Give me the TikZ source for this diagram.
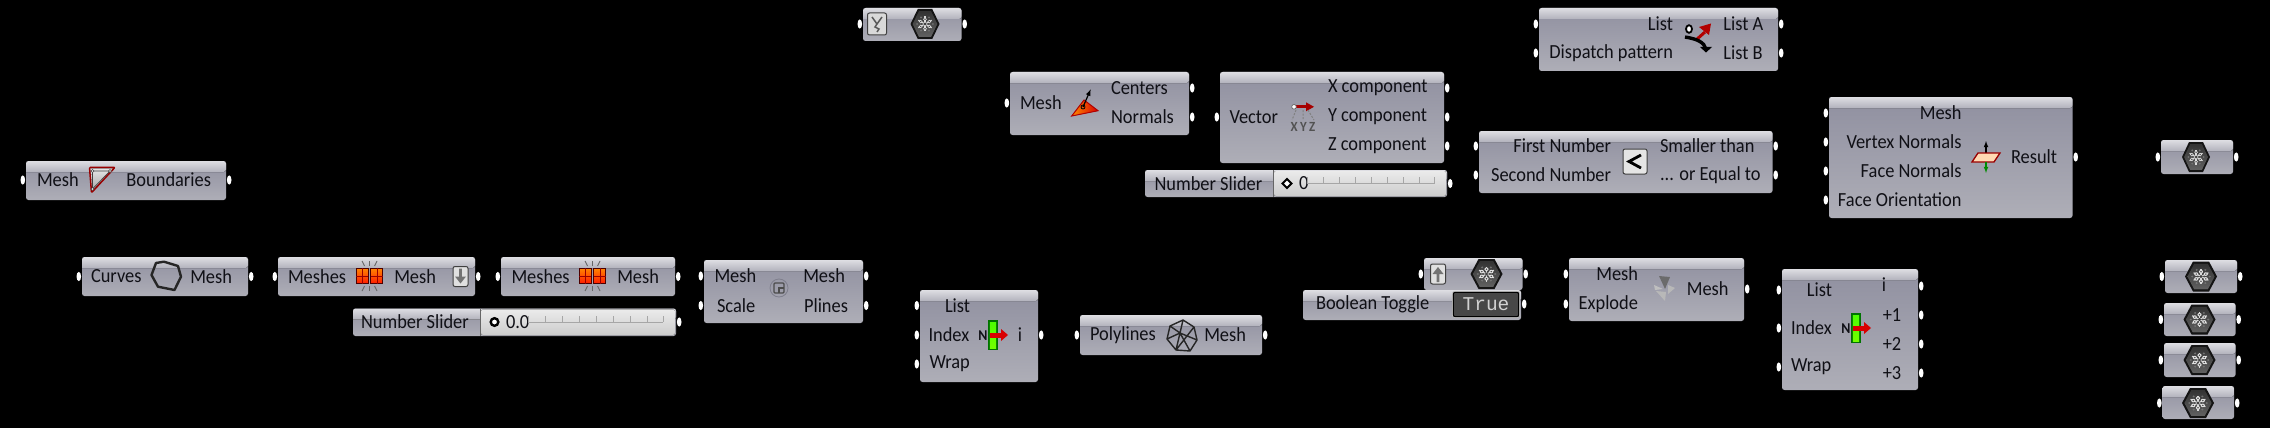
\documentclass[tikz,border=0pt]{standalone}
\usepackage{fontspec}
\setmainfont[FakeStretch=0.92]{Carlito}
\newfontfamily\monofam{Liberation Mono}
\usetikzlibrary{calc}
\definecolor{bodytop}{HTML}{9090A0}
\definecolor{bodybot}{HTML}{AEAEB7}
\definecolor{bandtop}{HTML}{DEDEE3}
\definecolor{bandbot}{HTML}{B2B2BC}
\definecolor{inkc}{HTML}{101016}
\newcount\labn
\tikzset{
  gbody/.style={rectangle,rounded corners=2.5pt,inner sep=0pt,outer sep=0pt,top color=bodytop,bottom color=bodybot,draw=none},
  lbl/.style={inner sep=0pt,outer sep=0pt,text=inkc,font=\fontsize{20}{22}\selectfont},
  gpin/.style={fill=white,draw=none},
  gband/.style={top color=bandtop,bottom color=bandbot,draw=none},
  glyphline/.style={line width=2.4pt,line join=round,draw=#1},
  iconbtn/.style={rectangle,rounded corners=2pt,inner sep=0pt,fill=#1,draw=black!75,line width=1pt},
}
% name, x1, y1, x2, y2, input pin ys, output pin ys
\newcommand\gcomp[7]{%
  \pgfmathsetmacro\gw{#4-#2}\pgfmathsetmacro\gh{#5-#3}%
  \pgfmathsetmacro\gcx{(#2+#4)/2}\pgfmathsetmacro\gcy{(#3+#5)/2}%
  \node[gbody,minimum width=\gw pt,minimum height=\gh pt] (#1) at (\gcx,\gcy) {};
  \fill[gband,rounded corners=2.5pt] (#2,#3+11) -- (#2,#3) -- (#4,#3) -- (#4,#3+11) [sharp corners] -- cycle;
  \foreach \py in {#6}{\fill[gpin] (#2-3.2,\py) ellipse (2.3 and 4.6);}
  \foreach \py in {#7}{\fill[gpin] (#4+3.2,\py) ellipse (2.3 and 4.6);}
}
\newcommand\lab[4]{\global\advance\labn by 1\node[lbl,anchor=#1] (lab\the\labn) at (#2,#3) {#4};}
% centre x, centre y, half width
\newcommand\hexicon[3]{%
  \begin{scope}[shift={(#1,#2)},xscale=#3/14]
    \fill[black!92] (-14,0)--(-7,-15)--(7,-15)--(14,0)--(7,15)--(-7,15)--cycle;
    \fill[top color=black!80,bottom color=black!62] (-12,0)--(-6,-12.8)--(6,-12.8)--(12,0)--(6,12.8)--(-6,12.8)--cycle;
    \foreach \a in {30,90,...,330}{
      \draw[white!85!black,line width=1.1pt] (0,0) -- (\a:7.5);
      \fill[white!90!black] (\a:4.8) circle (1.8);
      \fill[white!45!black] (\a+30:7.6) circle (1);
    }
    \fill[black!75] (0,0) circle (1.5);
    \foreach \a in {30,90,...,330}{\fill[black!70] (\a:4.8) circle (0.8);}
  \end{scope}}
\newcommand\splitmesh[2]{%
  \begin{scope}[shift={(#1,#2)}]
    \foreach \dx in {-7.2,7.2}{
      \fill[top color=orange!95!yellow,bottom color=red!80!orange] (\dx-6,-7.8) rectangle (\dx+6,7.8);
      \draw[black!70!red,line width=1pt] (\dx-6,-7.8) rectangle (\dx+6,7.8);
      \draw[red!60!black,line width=0.4pt] (\dx,-7.8)--(\dx,7.8) (\dx-6,0)--(\dx+6,0);
    }
    \foreach \dx in {-5,0,5}{
      \draw[black!60,line width=0.9pt] (\dx,-10) -- (1.5*\dx,-15);
      \draw[black!60,line width=0.9pt] (\dx,10) -- (1.5*\dx,15);
    }
  \end{scope}}
\newcommand\listitemicon[2]{%
  \begin{scope}[shift={(#1,#2)}]
    \fill[green!45!black] (-5,-15) rectangle (5,15);
    \fill[top color=green!70!yellow,bottom color=green!55!yellow] (-3.2,-13) rectangle (3.2,13);
    \fill[red!85!black] (-3,-2.5) rectangle (8,2.5);
    \fill[red!85!black] (8,-6) -- (15,0) -- (8,6) -- cycle;
    \node[lbl,font=\fontsize{15}{15}\bfseries\selectfont] (n#1) at (-10,1) {N};
  \end{scope}}
\newcommand\arrowbtn[3]{%
  \node[iconbtn=white!88!black,minimum width=15pt,minimum height=20pt] (btn#1) at (#1,#2) {};
  \fill[black!55] (#1-1.4,#2) -- (#1-1.4,#2+#3*8) -- (#1+1.4,#2+#3*8) -- (#1+1.4,#2) -- (#1+5.5,#2) -- (#1,#2-#3*7) -- (#1-5.5,#2) -- cycle;
}
\begin{document}
\begin{tikzpicture}[x=1pt,y=-1pt]
\useasboundingbox (0,0) rectangle (2270,428);
\fill[black] (0,0) rectangle (2270,428);

% ---- left column
\gcomp{boundaries}{26}{161}{226}{200}{180}{180}
\lab{west}{37}{180}{Mesh}
\lab{east}{211}{180}{Boundaries}
\fill[top color=white!90!black,bottom color=black!35] (91,168.5)--(113,168.5)--(92,191)--cycle;
\draw[red!60!black,line width=1.5pt,line join=round,rounded corners=1pt] (89.5,167.3)--(115,167.3)--(91.5,192.7)--cycle;
\draw[black!75,line width=0.7pt] (92.5,171)--(110,171)--(92.5,189)--cycle;
\foreach \cx/\cy in {92.5/171,110/171,92.5/189}{\fill[white,draw=black!75,line width=0.6pt] (\cx,\cy) circle (1.5);}

\gcomp{curves}{82}{257}{248}{296}{276.5}{276.5}
\lab{west}{91}{276.5}{Curves}
\lab{east}{232}{276.5}{Mesh}
\draw[glyphline=black!85] (164,261.7)--(178,266)--(181,276.7)--(174.5,290)--(158,286.7)--(151.5,275)--(156,263)--cycle;

\gcomp{meshA}{278}{257}{475}{296}{276.5}{276.5}
\lab{west}{288}{276.5}{Meshes}
\lab{east}{436}{276.5}{Mesh}
\splitmesh{369.5}{276}
\arrowbtn{460.5}{276.5}{-1}

\gcomp{meshB}{501}{257}{675}{296}{276.5}{276.5}
\lab{west}{511.5}{276.5}{Meshes}
\lab{east}{659}{276.5}{Mesh}
\splitmesh{592.5}{276}

% number slider 1
\gcomp{sliderA}{353}{308.5}{676}{336}{}{322}
\fill[top color=white!92!black,bottom color=white!80!black,rounded corners=2pt] (481,309.5) rectangle (675,335);
\draw[black!60,line width=1pt] (480,308.5)--(480,336);
\lab{west}{361}{322}{Number Slider}
\draw[black,line width=2.4pt,fill=white] (494.5,322) circle (3.8);
\lab{west}{506}{322}{0.0}
\draw[black!35,line width=0.5pt] (528,322)--(663,322);
\foreach \tx in {528,545,562,579,596,613,630,647,663}{\draw[black!35,line width=0.5pt] (\tx,316)--(\tx,322);}

% ---- top row
\gcomp{dataA}{863}{8}{961.5}{41}{24}{24}
\node[iconbtn=white!85!black,minimum width=19pt,minimum height=22pt] (ybtn) at (877,24) {};
\draw[black!65,line width=1.5pt] (872,17)--(877,24)--(882,17) (877,24)--(875,27)--(879,29)--(877,32);
\hexicon{925}{24}{14.5}

\gcomp{faces}{1010}{72}{1189}{135}{103}{88,117}
\lab{west}{1020}{103}{Mesh}
\lab{west}{1111}{88}{Centers}
\lab{west}{1111}{117}{Normals}
\fill[left color=orange!90!yellow,right color=red!85!black] (1071.7,116)--(1084,100)--(1098,110.7)--cycle;
\draw[black!30!red,line width=1pt] (1071.7,116)--(1084,100)--(1098,110.7)--cycle;
\draw[black,line width=1.2pt,-latex] (1083,107)--(1090.7,89.3);
\draw[black,line width=0.8pt] (1083,107) circle (2);

\gcomp{vec}{1220}{72}{1444}{163}{117}{88,117,146}
\lab{west}{1229.5}{117}{Vector}
\lab{west}{1328}{88}{X component}
\lab{west}{1328}{117}{Y component}
\lab{west}{1328}{146}{Z component}
\fill[red!65!black] (1294,105.3) rectangle (1307,108.3);
\fill[red!65!black] (1306,102.3)--(1314,106.8)--(1306,111.3)--cycle;
\fill[white,draw=black!60,line width=0.7pt] (1294,106.8) circle (2.3);
\draw[black!50,line width=1pt,dash pattern=on 2pt off 1.5pt] (1296,110)--(1292,120) (1303,110)--(1303,120) (1308,110)--(1314,120);
\node[lbl,text=black!68,font=\fontsize{14}{14}\bfseries\selectfont] (xyz) at (1303,126.5) {X\,Y\,Z};

\gcomp{sliderB}{1145}{170}{1447}{197}{}{183.5}
\fill[top color=white!92!black,bottom color=white!80!black,rounded corners=2pt] (1274,171) rectangle (1446,196);
\draw[black!60,line width=1pt] (1273,170)--(1273,197);
\lab{west}{1154.5}{183.5}{Number Slider}
\draw[black,line width=1.8pt,fill=white] (1287,179)--(1291.5,183.5)--(1287,188)--(1282.5,183.5)--cycle;
\lab{west}{1299}{183.5}{0}
\draw[black!35,line width=0.5pt] (1307.5,183.5)--(1434,183.5);
\foreach \tx in {1307.5,1323,1339,1355,1371,1387,1403,1419,1434}{\draw[black!35,line width=0.5pt] (\tx,177)--(\tx,183.5);}

\gcomp{dispatch}{1539}{8}{1778}{71}{24,53}{24,53}
\lab{east}{1673}{24}{List}
\lab{east}{1673}{53}{Dispatch pattern}
\lab{west}{1723.4}{24}{List A}
\lab{west}{1723.4}{53}{List B}
\draw[red!70!black,line width=3pt] (1696,40)--(1705,32);
\fill[red!70!black] (1699,27)--(1711,23.5)--(1709,35)--cycle;
\draw[black,line width=3.4pt] (1685,37) .. controls (1697,39) and (1704,42) .. (1706,49);
\fill[black] (1700,47)--(1712,47)--(1706,52.5)--cycle;
\fill[white,draw=black,line width=1.8pt] (1689,29) ellipse (3 and 3.8);

\gcomp{compare}{1479}{131}{1772.5}{193}{146,175}{146,175}
\lab{east}{1611}{146}{First Number}
\lab{east}{1611}{175}{Second Number}
\lab{west}{1660}{146}{Smaller than}
\lab{west}{1660}{175}{... or Equal to}
\node[iconbtn=white!90!black,minimum width=24pt,minimum height=25pt] (ltbtn) at (1635,161.5) {};
\draw[black,line width=2.8pt] (1641,155)--(1629,161.5)--(1641,168);

\gcomp{normals}{1829}{97}{2072.5}{218}{113,142,171,200}{157}
\lab{east}{1961.5}{113}{Mesh}
\lab{east}{1961.5}{142}{Vertex Normals}
\lab{east}{1961.5}{171}{Face Normals}
\lab{east}{1961.5}{200}{Face Orientation}
\lab{west}{2011}{157}{Result}
\draw[black,line width=1.1pt,-latex] (1986,157)--(1986,141);
\fill[orange!30!white,draw=red!60!black,line width=1.3pt] (1978,153)--(2000,153)--(1994,162)--(1972,162)--cycle;
\draw[green!55!black,line width=1.1pt,-latex] (1986,162)--(1986,173);

\gcomp{hexA}{2161}{140}{2233}{174}{157}{157}
\hexicon{2196}{157}{14}

% ---- lower middle
\gcomp{scale}{704}{260}{863}{323}{276,305.5}{276,305.5}
\lab{west}{714.5}{276}{Mesh}
\lab{west}{717}{305.5}{Scale}
\lab{east}{845}{276}{Mesh}
\lab{east}{848}{305.5}{Plines}
\draw[black!12!bodytop,line width=0.8pt] (779,288) circle (9);
\draw[black!70,line width=1.3pt,rounded corners=1pt] (774,283) rectangle (784,293);
\draw[black!70,line width=1.3pt] (779,293)--(779,288)--(784,288);

\gcomp{listA}{920}{290}{1038}{382}{305.5,335,364}{335}
\lab{west}{945}{305.5}{List}
\lab{west}{928.5}{335}{Index}
\lab{west}{929.5}{364}{Wrap}
\lab{center}{1020}{335}{i}
\listitemicon{993}{335}

\gcomp{poly}{1080}{315}{1262}{355}{335}{335}
\lab{west}{1090}{335}{Polylines}
\lab{east}{1246}{335}{Mesh}
\draw[black!85,line width=1.4pt,line join=round] (1183,320)--(1194,327)--(1197,340)--(1190,351)--(1176,350)--(1167,339)--(1170,326)--cycle
  (1183,320)--(1180,333)--(1190,351) (1170,326)--(1180,333)--(1197,340) (1167,339)--(1180,333) (1176,350)--(1194,327) (1176,350)--(1180,333);

\gcomp{dataB}{1424}{258}{1522.5}{290}{274}{274}
\arrowbtn{1438}{274}{1}
\hexicon{1486.5}{274}{16}

\gcomp{toggle}{1303}{290}{1521}{320}{}{304}
\lab{west}{1316}{304}{Boolean Toggle}
\node[rectangle,rounded corners=2pt,inner sep=0pt,fill=black!72,draw=white!75!black,line width=0.8pt,minimum width=67pt,minimum height=26pt,text=white!82!black,font=\monofam\fontsize{19.5}{20}\selectfont] (truebox) at (1486,304.5) {True};
\draw[black,line width=1pt,rounded corners=2pt] (truebox.north west)++(1.2,1.2) rectangle ($(truebox.south east)+(-1.2,-1.2)$);

\gcomp{explode}{1569}{258}{1744}{321}{274,304}{289}
\lab{east}{1638}{274}{Mesh}
\lab{east}{1638}{304}{Explode}
\lab{east}{1728.5}{289}{Mesh}
\fill[black!58] (1659,276)--(1670,277)--(1665,289)--cycle;
\fill[black!28] (1668,285)--(1675,288)--(1668,294)--cycle;
\fill[black!28] (1656,291)--(1666,292)--(1665,301)--cycle;
\fill[white!75!black] (1654,285)--(1663,289)--(1655,290)--cycle;

\gcomp{listB}{1782}{269}{1918}{390}{290,328,367}{286,315,344,373}
\lab{east}{1832}{290}{List}
\lab{west}{1791}{328}{Index}
\lab{west}{1791}{367}{Wrap}
\lab{center}{1884}{285}{i}
\lab{center}{1892}{315}{+1}
\lab{center}{1892}{344}{+2}
\lab{center}{1892}{373}{+3}
\listitemicon{1856}{328}

\gcomp{hexB}{2165}{260}{2237}{293}{276.5}{276.5}
\hexicon{2201}{276.5}{16}
\gcomp{hexC}{2164}{303}{2235.5}{336}{319.5}{319.5}
\hexicon{2199.5}{319.5}{16}
\gcomp{hexD}{2164}{343}{2235.5}{377}{360}{360}
\hexicon{2199.5}{360}{16}
\gcomp{hexE}{2162.5}{386}{2234}{419}{403}{403}
\hexicon{2198}{403}{16}
\end{tikzpicture}
\end{document}
